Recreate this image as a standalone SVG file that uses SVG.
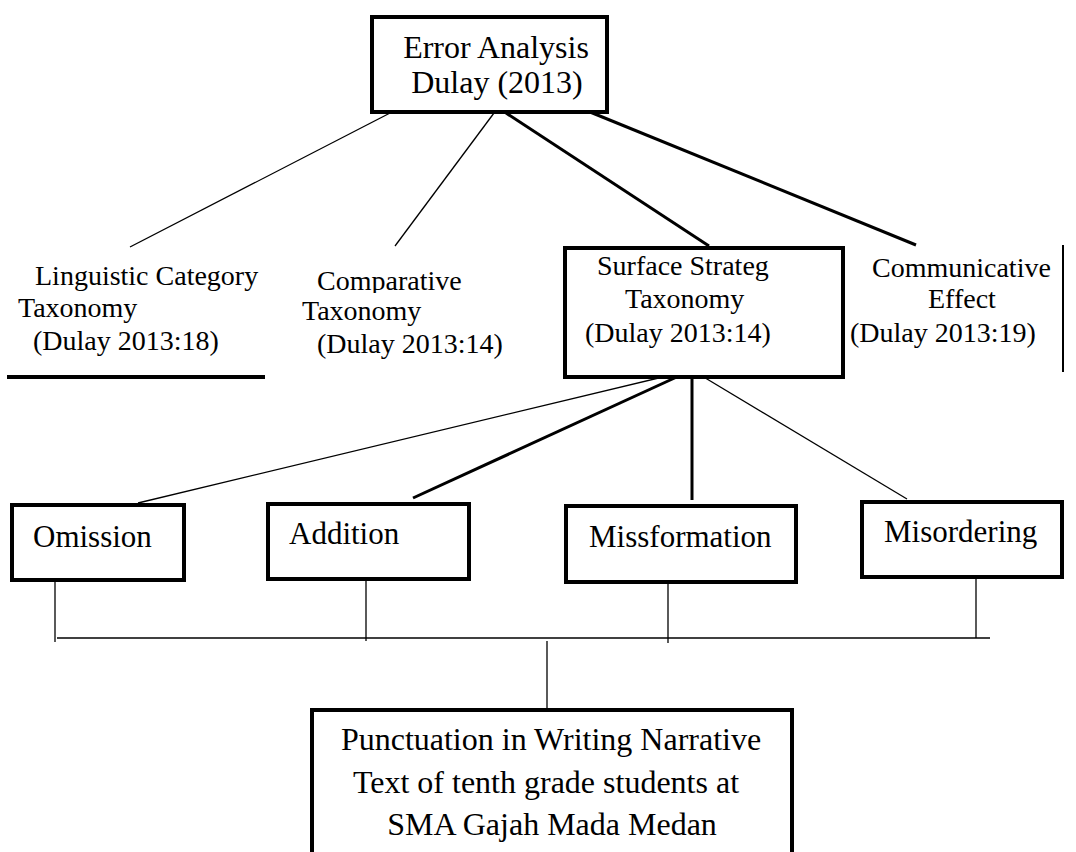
<svg xmlns="http://www.w3.org/2000/svg" width="1076" height="852" viewBox="0 0 1076 852">
<style>
.box{fill:#fff;stroke:#000;stroke-width:4}
.t{font-family:"Liberation Serif","Times New Roman",serif;fill:#000}
.s28{font-size:28px}
.s30{font-size:31px}
.s32{font-size:32px}
.thin{stroke:#000;stroke-width:1.3;fill:none}
.thick{stroke:#000;stroke-width:3;fill:none}
</style>
<defs>
<clipPath id="clipComp"><rect x="290" y="250" width="200" height="43"/></clipPath>
</defs>
<rect width="1076" height="852" fill="#fff"/>
<g id="connectors">
<line class="thin" x1="392" y1="112" x2="130" y2="247"/>
<line class="thin" x1="494" y1="113" x2="395" y2="246"/>
<line class="thick" x1="506" y1="113" x2="709" y2="246"/>
<line class="thick" x1="590" y1="112" x2="916" y2="245"/>
<line class="thin" x1="692" y1="370" x2="138" y2="503"/>
<line class="thick" x1="692" y1="370" x2="413" y2="498"/>
<line class="thick" x1="692" y1="370" x2="692" y2="500"/>
<line class="thin" x1="692" y1="370" x2="907" y2="499"/>
<line class="thin" x1="55" y1="577" x2="55" y2="642"/>
<line class="thin" x1="366" y1="577" x2="366" y2="641"/>
<line class="thin" x1="668" y1="578" x2="668" y2="643"/>
<line class="thin" x1="976" y1="574" x2="976" y2="638"/>
<line class="thin" x1="57" y1="638" x2="990" y2="638"/>
<line class="thin" x1="547" y1="641" x2="547" y2="708"/>
</g>
<g id="node-error-analysis">
<rect class="box" x="372" y="17" width="235" height="95"/>
<text class="t s32" x="496" y="58" text-anchor="middle">Error Analysis</text>
<text class="t s32" x="497" y="93" text-anchor="middle">Dulay (2013)</text>
</g>
<g id="node-linguistic">
<text class="t s28" x="35" y="285">Linguistic Category</text>
<text class="t s28" x="18" y="317">Taxonomy</text>
<text class="t s28" x="33" y="350">(Dulay 2013:18)</text>
<line x1="7" y1="377" x2="265" y2="377" stroke="#000" stroke-width="4"/>
</g>
<g id="node-comparative">
<text class="t s28" x="317" y="290" clip-path="url(#clipComp)">Comparative</text>
<text class="t s28" x="302" y="320">Taxonomy</text>
<text class="t s28" x="317" y="353">(Dulay 2013:14)</text>
</g>
<g id="node-surface">
<rect class="box" x="565" y="248" width="278" height="129"/>
<text class="t s28" x="597" y="275">Surface Strateg</text>
<text class="t s28" x="625" y="308">Taxonomy</text>
<text class="t s28" x="585" y="342">(Dulay 2013:14)</text>
</g>
<g id="node-communicative">
<text class="t s28" x="872" y="277">Communicative</text>
<text class="t s28" x="928" y="308">Effect</text>
<text class="t s28" x="850" y="342">(Dulay 2013:19)</text>
<line x1="1063" y1="245" x2="1063" y2="372" stroke="#000" stroke-width="2"/>
</g>
<g id="node-omission">
<rect class="box" x="12" y="505" width="172" height="75"/>
<text class="t s30" x="33" y="547">Omission</text>
</g>
<g id="node-addition">
<rect class="box" x="268" y="504" width="201" height="75"/>
<text class="t s30" x="289" y="544">Addition</text>
</g>
<g id="node-missformation">
<rect class="box" x="566" y="506" width="230" height="76"/>
<text class="t s30" x="589" y="547">Missformation</text>
</g>
<g id="node-misordering">
<rect class="box" x="862" y="502" width="200" height="75"/>
<text class="t s30" x="884" y="542">Misordering</text>
</g>
<g id="node-punctuation">
<rect class="box" x="312" y="710" width="480" height="160"/>
<text class="t s32" x="551" y="750" text-anchor="middle">Punctuation in Writing Narrative</text>
<text class="t s32" x="546" y="793" text-anchor="middle">Text of tenth grade students at</text>
<text class="t s32" x="552" y="835" text-anchor="middle">SMA Gajah Mada Medan</text>
</g>
</svg>
